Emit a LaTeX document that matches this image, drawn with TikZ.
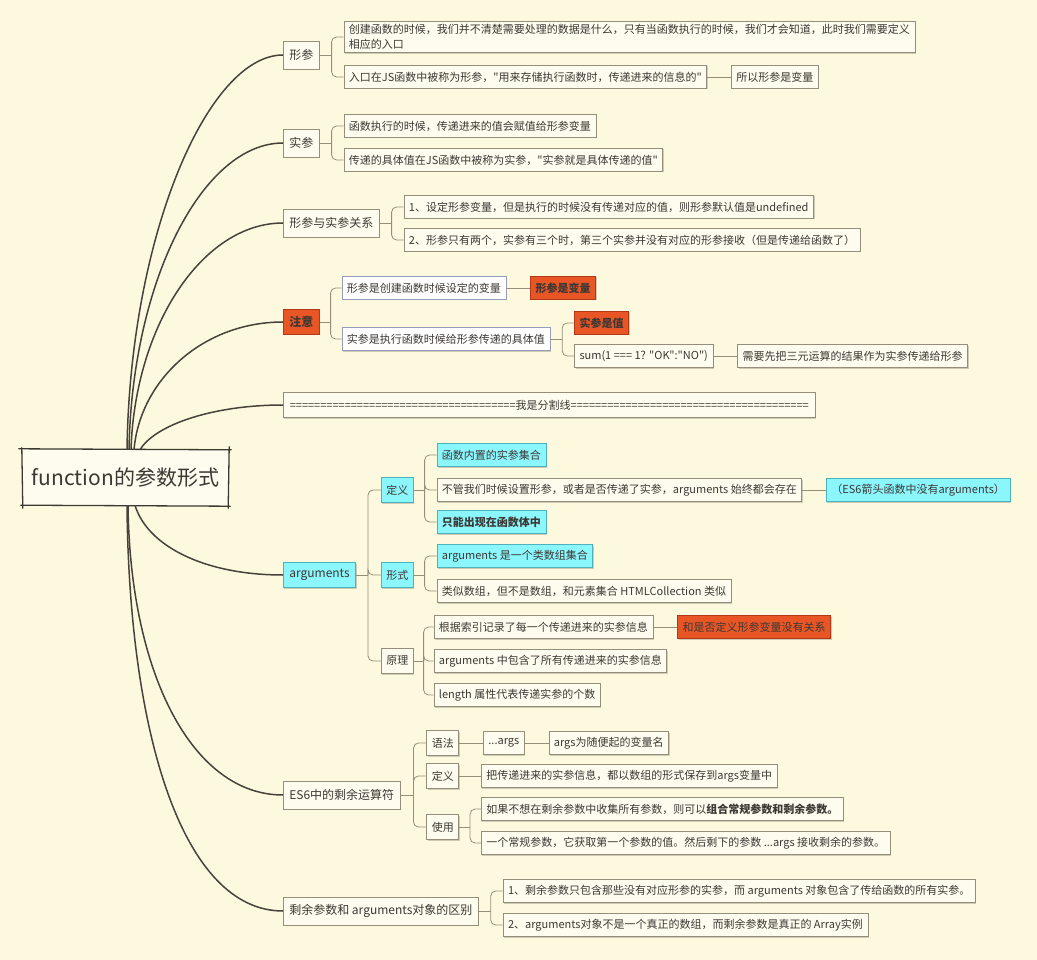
\documentclass[tikz,border=0pt]{standalone}
\usepackage{fontspec}
\setmainfont{Noto Sans CJK SC}[Ligatures=TeXOff]
\usepackage{tikz}
\usetikzlibrary{positioning,calc,shadows}

\definecolor{bgcol}{RGB}{253,249,222}
\definecolor{boxfill}{RGB}{254,252,238}
\definecolor{boxline}{RGB}{150,142,122}
\definecolor{trunkline}{RGB}{72,66,60}
\definecolor{hotfill}{RGB}{233,86,38}
\definecolor{hotline}{RGB}{180,56,24}
\definecolor{aquafill}{RGB}{140,246,253}
\definecolor{aqualine}{RGB}{78,178,190}
\definecolor{paleline}{RGB}{150,156,190}
\definecolor{inkcol}{RGB}{60,56,52}

\tikzset{
  rootbox/.style={
    rectangle, draw=none, fill=boxfill,
    minimum width=207pt, minimum height=55pt,
    font=\fontsize{21}{24}\selectfont, text=inkcol
  },
  rootline/.style={draw=inkcol, line width=1.3pt, line cap=round},
  topic/.style={
    rectangle, draw=boxline, fill=boxfill, line width=0.6pt,
    minimum height=28pt, inner xsep=6pt, inner ysep=2pt,
    font=\fontsize{12}{14}\selectfont, text=inkcol, anchor=west,
    drop shadow={shadow xshift=1pt, shadow yshift=-1pt, fill=black, opacity=0.18}
  },
  leaf/.style={topic, minimum height=23pt, inner xsep=5pt,
    font=\fontsize{11}{15}\selectfont},
  subtopic/.style={leaf, minimum height=25pt},
  hotbox/.style={fill=hotfill, draw=hotline},
  aquabox/.style={fill=aquafill, draw=aqualine},
  palebox/.style={fill=white, draw=paleline},
  trunk/.style={draw=trunkline, line width=1.5pt},
  branch/.style={draw=boxline, line width=0.8pt, rounded corners=5pt},
}

\begin{document}
\begin{tikzpicture}[x=1pt, y=-1pt, node distance=24pt]
  \useasboundingbox (0,0) rectangle (1037,960);
  \fill[bgcol] (0,0) rectangle (1037,960);

  % Central topic
  \node[rootbox] (fn) at (125.5,477.5) {function的参数形式};
  \draw[rootline] ([xshift=-3pt,yshift=1pt]fn.north west) -- ([xshift=2pt]fn.north east);
  \draw[rootline] ([xshift=-1pt]fn.south west) -- ([xshift=1pt,yshift=-1pt]fn.south east);
  \draw[rootline] ([yshift=2pt]fn.north west) -- ([xshift=1pt,yshift=-3pt]fn.south west);
  \draw[rootline] ([yshift=3pt]fn.north east) -- ([xshift=-1pt,yshift=-3pt]fn.south east);

  % Main topics
  \node[topic] (xingcan) at (283,55)  {形参};
  \node[topic] (shican)  at (283,143) {实参};
  \node[topic] (guanxi)  at (283,223) {形参与实参关系};
  \node[topic, hotbox, minimum height=25pt, font=\fontsize{12}{14}\selectfont\bfseries]
        (zhuyi) at (283,322) {注意};
  \node[topic, minimum width=532pt, minimum height=25pt, inner xsep=3pt,
        font=\fontsize{11}{13}\selectfont]
        (fenge) at (283,405)
        {=====================================我是分割线=======================================};
  \node[topic, aquabox, minimum height=25pt] (args) at (283,575) {arguments};
  \node[topic] (rest) at (283,795) {ES6中的剩余运算符};
  \node[topic] (diff) at (283,911) {剩余参数和 arguments对象的区别};

  % Trunk curves
  \draw[trunk] ([xshift=1.5pt]fn.north)  .. controls +(3,-215) and +(-75,0) .. (xingcan.west);
  \draw[trunk] ([xshift=3.5pt]fn.north)  .. controls +(3,-170) and +(-80,0) .. (shican.west);
  \draw[trunk] ([xshift=5.5pt]fn.north)  .. controls +(4,-125) and +(-80,0) .. (guanxi.west);
  \draw[trunk] ([xshift=8.5pt]fn.north)  .. controls +(6,-70) and +(-80,0) .. (zhuyi.west);
  \draw[trunk] ([xshift=14.5pt]fn.north) .. controls +(15,-25) and +(-70,0) .. (fenge.west);
  \draw[trunk] ([xshift=9.5pt]fn.south)  .. controls +(12,40) and +(-80,0) .. (args.west);
  \draw[trunk] ([xshift=2.5pt]fn.south)  .. controls +(2,170) and +(-90,0) .. (rest.west);
  \draw[trunk] ([xshift=1.5pt]fn.south)  .. controls +(2,230) and +(-100,0) .. (diff.west);

  % 形参
  \node[leaf, align=left, inner ysep=3pt] (xc1) at ($(xingcan.east)+(24,-18)$)
        {创建函数的时候，我们并不清楚需要处理的数据是什么，只有当函数执行的时候，我们才会知道，此时我们需要定义\\相应的入口};
  \node[leaf] (xc2) at ($(xingcan.east)+(24,22)$)
        {入口在JS函数中被称为形参，"用来存储执行函数时，传递进来的信息的"};
  \node[leaf, right=of xc2] (xc3) {所以形参是变量};
  \draw[branch] (xingcan.east) -- ++(12,0) coordinate (xingcan-j);
  \foreach \c in {xc1,xc2} \draw[branch] (xingcan-j) |- (\c.west);
  \draw[branch] (xc2) -- (xc3);

  % 实参
  \node[leaf] (sc1) at ($(shican.east)+(24,-17)$) {函数执行的时候，传递进来的值会赋值给形参变量};
  \node[leaf] (sc2) at ($(shican.east)+(24,17)$)
        {传递的具体值在JS函数中被称为实参，"实参就是具体传递的值"};
  \draw[branch] (shican.east) -- ++(12,0) coordinate (shican-j);
  \foreach \c in {sc1,sc2} \draw[branch] (shican-j) |- (\c.west);

  % 形参与实参关系
  \node[leaf] (gx1) at ($(guanxi.east)+(24,-16)$)
        {1、设定形参变量，但是执行的时候没有传递对应的值，则形参默认值是undefined};
  \node[leaf] (gx2) at ($(guanxi.east)+(24,17)$)
        {2、形参只有两个，实参有三个时，第三个实参并没有对应的形参接收（但是传递给函数了）};
  \draw[branch] (guanxi.east) -- ++(12,0) coordinate (guanxi-j);
  \foreach \c in {gx1,gx2} \draw[branch] (guanxi-j) |- (\c.west);

  % 注意
  \node[leaf, palebox] (zy1) at ($(zhuyi.east)+(22,-34)$) {形参是创建函数时候设定的变量};
  \node[leaf, hotbox, font=\fontsize{11}{15}\selectfont\bfseries, right=of zy1] (zy1a) {形参是变量};
  \node[leaf, palebox] (zy2) at ($(zhuyi.east)+(22,17)$) {实参是执行函数时候给形参传递的具体值};
  \node[leaf, hotbox, font=\fontsize{11}{15}\selectfont\bfseries] (zy2a)
        at ($(zy2.east)+(24,-16)$) {实参是值};
  \node[leaf] (zy2b) at ($(zy2.east)+(24,17)$) {sum(1 === 1? "OK":"NO")};
  \node[leaf, right=of zy2b] (zy2c) {需要先把三元运算的结果作为实参传递给形参};
  \draw[branch] (zhuyi.east) -- ++(11,0) coordinate (zhuyi-j);
  \foreach \c in {zy1,zy2} \draw[branch] (zhuyi-j) |- (\c.west);
  \draw[branch] (zy1) -- (zy1a);
  \draw[branch] (zy2.east) -- ++(12,0) coordinate (zy2-j);
  \foreach \c in {zy2a,zy2b} \draw[branch] (zy2-j) |- (\c.west);
  \draw[branch] (zy2b) -- (zy2c);

  % arguments
  \node[subtopic, aquabox] (dingyi)  at ($(args.east)+(25,-85)$) {定义};
  \node[subtopic, aquabox] (xingshi) at ($(args.east)+(25,0)$)   {形式};
  \node[subtopic]          (yuanli)  at ($(args.east)+(25,86)$)  {原理};
  \draw[branch] (args.east) -- ++(12,0) coordinate (args-j);
  \foreach \c in {dingyi,xingshi,yuanli} \draw[branch] (args-j) |- (\c.west);

  \node[leaf, aquabox] (dy1) at ($(dingyi.east)+(23,-35)$) {函数内置的实参集合};
  \node[leaf] (dy2) at ($(dingyi.east)+(23,0)$)
        {不管我们时候设置形参，或者是否传递了实参，arguments 始终都会存在};
  \node[leaf, aquabox, right=of dy2] (dy2a) {（ES6箭头函数中没有arguments）};
  \node[leaf, aquabox, font=\fontsize{11}{15}\selectfont\bfseries] (dy3)
        at ($(dingyi.east)+(23,32)$) {只能出现在函数体中};
  \draw[branch] (dingyi.east) -- ++(11,0) coordinate (dingyi-j);
  \foreach \c in {dy1,dy2,dy3} \draw[branch] (dingyi-j) |- (\c.west);
  \draw[branch] (dy2) -- (dy2a);

  \node[leaf, aquabox] (xs1) at ($(xingshi.east)+(23,-19)$) {arguments 是一个类数组集合};
  \node[leaf] (xs2) at ($(xingshi.east)+(23,16)$)
        {类似数组，但不是数组，和元素集合 HTMLCollection 类似};
  \draw[branch] (xingshi.east) -- ++(11,0) coordinate (xingshi-j);
  \foreach \c in {xs1,xs2} \draw[branch] (xingshi-j) |- (\c.west);

  \node[leaf] (yl1) at ($(yuanli.east)+(20,-34)$) {根据索引记录了每一个传递进来的实参信息};
  \node[leaf, hotbox, right=of yl1] (yl1a) {和是否定义形参变量没有关系};
  \node[leaf] (yl2) at ($(yuanli.east)+(20,0)$) {arguments 中包含了所有传递进来的实参信息};
  \node[leaf] (yl3) at ($(yuanli.east)+(20,34)$) {length 属性代表传递实参的个数};
  \draw[branch] (yuanli.east) -- ++(10,0) coordinate (yuanli-j);
  \foreach \c in {yl1,yl2,yl3} \draw[branch] (yuanli-j) |- (\c.west);
  \draw[branch] (yl1) -- (yl1a);

  % ES6中的剩余运算符
  \node[subtopic] (yufa)    at ($(rest.east)+(26,-52)$) {语法};
  \node[subtopic] (rdingyi) at ($(rest.east)+(26,-19)$) {定义};
  \node[subtopic] (shiyong) at ($(rest.east)+(26,32)$)  {使用};
  \draw[branch] (rest.east) -- ++(13,0) coordinate (rest-j);
  \foreach \c in {yufa,rdingyi,shiyong} \draw[branch] (rest-j) |- (\c.west);

  \node[leaf, right=of yufa] (yf1) {...args};
  \node[leaf, right=of yf1] (yf2) {args为随便起的变量名};
  \draw[branch] (yufa) -- (yf1);
  \draw[branch] (yf1) -- (yf2);

  \node[leaf, right=22pt of rdingyi] (rd1) {把传递进来的实参信息，都以数组的形式保存到args变量中};
  \draw[branch] (rdingyi) -- (rd1);

  \node[leaf] (sy1) at ($(shiyong.east)+(22,-18)$)
        {如果不想在剩余参数中收集所有参数，则可以\textbf{组合常规参数和剩余参数。}};
  \node[leaf] (sy2) at ($(shiyong.east)+(22,16)$)
        {一个常规参数，它获取第一个参数的值。然后剩下的参数 ...args 接收剩余的参数。};
  \draw[branch] (shiyong.east) -- ++(11,0) coordinate (shiyong-j);
  \foreach \c in {sy1,sy2} \draw[branch] (shiyong-j) |- (\c.west);

  % 剩余参数和 arguments对象的区别
  \node[leaf] (df1) at ($(diff.east)+(24,-20)$)
        {1、剩余参数只包含那些没有对应形参的实参，而 arguments 对象包含了传给函数的所有实参。};
  \node[leaf] (df2) at ($(diff.east)+(24,14)$)
        {2、arguments对象不是一个真正的数组，而剩余参数是真正的 Array实例};
  \draw[branch] (diff.east) -- ++(12,0) coordinate (diff-j);
  \foreach \c in {df1,df2} \draw[branch] (diff-j) |- (\c.west);

\end{tikzpicture}
\end{document}
